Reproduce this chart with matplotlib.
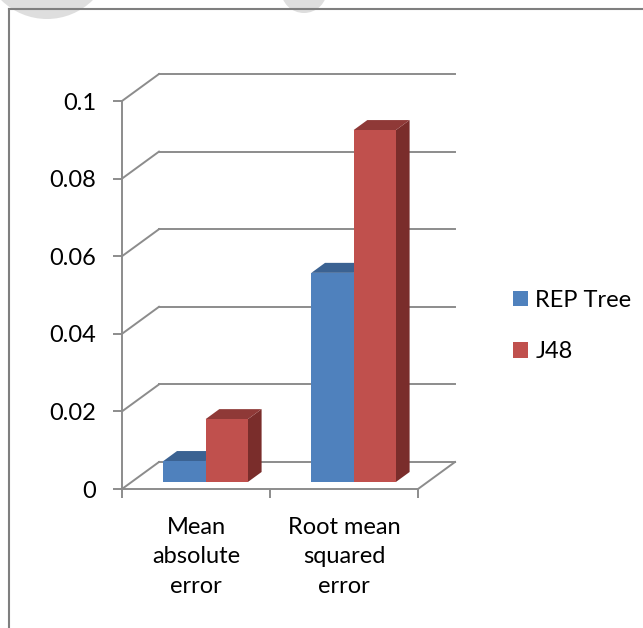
"""Excel-style 3D clustered column chart: REP Tree vs J48 error measures."""
import matplotlib
matplotlib.use("Agg")
import matplotlib.pyplot as plt
from matplotlib.patches import Polygon, Patch, Ellipse
from matplotlib.lines import Line2D

plt.rcParams["font.family"] = ["Lato", "DejaVu Sans"]

categories = ["Mean\nabsolute\nerror", "Root mean\nsquared\nerror"]
series_names = ["REP Tree", "J48"]
rep_tree = [0.0054, 0.0539]
j48 = [0.0162, 0.0907]
y_ticks = [0, 0.02, 0.04, 0.06, 0.08, 0.1]
y_labels = ["0", "0.02", "0.04", "0.06", "0.08", "0.1"]

# colours: front, top, side for each series
face_cols = {
    "REP Tree": ("#4F81BD", "#3B6292", "#2F4F78"),
    "J48": ("#C0504D", "#8F3937", "#7A2D2B"),
}
grid_col = "#8C8C8C"

W, H = 643, 628
fig = plt.figure(figsize=(W / 100, H / 100), dpi=100)

ax = fig.add_axes([122 / W, 1 - 489 / H, 296 / W, 388 / H])
ax.set_xlim(0, 2)
ax.set_ylim(0, 0.1)
ax.patch.set_visible(False)

# depth of the box expressed in data units (37 px right, 27 px up)
DX = 37 / 148
DY = 27 / 3880
bar_front = 0.26   # depth fraction where bar front faces sit
bar_depth = 0.37   # depth fraction occupied by the bars
bar_w = 1 / 3.5    # gap width 150 %

# back wall gridlines + side-wall diagonals
for v in y_ticks:
    ax.plot([0, DX], [v, v + DY], color=grid_col, lw=1.4, zorder=1, clip_on=False)
    ax.plot([DX, 2 + DX], [v + DY, v + DY], color=grid_col, lw=1.4, zorder=1, clip_on=False)
# floor right edge
ax.plot([2, 2 + DX], [0, DY], color=grid_col, lw=1.4, zorder=1, clip_on=False)

# bars
ox, oy = bar_front * DX, bar_front * DY
ddx, ddy = bar_depth * DX, bar_depth * DY
for i in range(len(categories)):
    for k, (name, vals) in enumerate(zip(series_names, [rep_tree, j48])):
        front, top, side = face_cols[name]
        x0 = i + 0.75 * bar_w + k * bar_w + ox
        x1 = x0 + bar_w
        b = oy
        t = oy + vals[i]
        ax.add_patch(Polygon([(x1, b), (x1 + ddx, b + ddy), (x1 + ddx, t + ddy), (x1, t)],
                             closed=True, fc=side, ec="none", zorder=3, clip_on=False))
        ax.add_patch(Polygon([(x0, t), (x1, t), (x1 + ddx, t + ddy), (x0 + ddx, t + ddy)],
                             closed=True, fc=top, ec="none", zorder=3, clip_on=False))
        ax.add_patch(Polygon([(x0, b), (x1, b), (x1, t), (x0, t)],
                             closed=True, fc=front, ec="none", zorder=3, clip_on=False))

# axes: front vertical axis and front floor edge
for s in ["top", "right"]:
    ax.spines[s].set_visible(False)
for s in ["left", "bottom"]:
    ax.spines[s].set_color(grid_col)
    ax.spines[s].set_linewidth(1.4)
    ax.spines[s].set_zorder(2)

ax.set_yticks(y_ticks)
ax.set_yticklabels(y_labels)
ax.set_xticks([0, 1, 2])
ax.set_xticklabels(["", "", ""])
ax.set_xticks([0.5, 1.5], minor=True)
ax.set_xticklabels(categories, minor=True, linespacing=1.5)
ax.tick_params(axis="both", which="major", color=grid_col, width=1.4, length=6.5,
               labelsize=17, labelcolor="black")
ax.tick_params(axis="y", pad=12)
ax.tick_params(axis="x", which="minor", length=0, pad=20, labelsize=17)

# legend
handles = [Patch(fc=face_cols[n][0], ec="none") for n in series_names]
fig.legend(handles, series_names, loc="center left", bbox_to_anchor=(492 / W, 1 - 326 / H),
           frameon=False, fontsize=17, handlelength=0.64, handleheight=0.64,
           handletextpad=0.3, labelspacing=1.3)

# chart area border (runs off the right and bottom edges)
fig.add_artist(Line2D([9 / W, 9 / W], [0, 1 - 9 / H], color="#7F7F7F", lw=1.5))
fig.add_artist(Line2D([9 / W, 1], [1 - 9 / H, 1 - 9 / H], color="#7F7F7F", lw=1.5))

# faint watermark shapes clipped at the very top
for cx, cy, r in [(47, -46, 65), (304, -10, 23)]:
    fig.add_artist(Ellipse((cx / W, 1 - cy / H), 2 * r / W, 2 * r / H,
                           fc="#DEDEDE", ec="none", zorder=0))

fig.savefig("out.png", dpi=100)
